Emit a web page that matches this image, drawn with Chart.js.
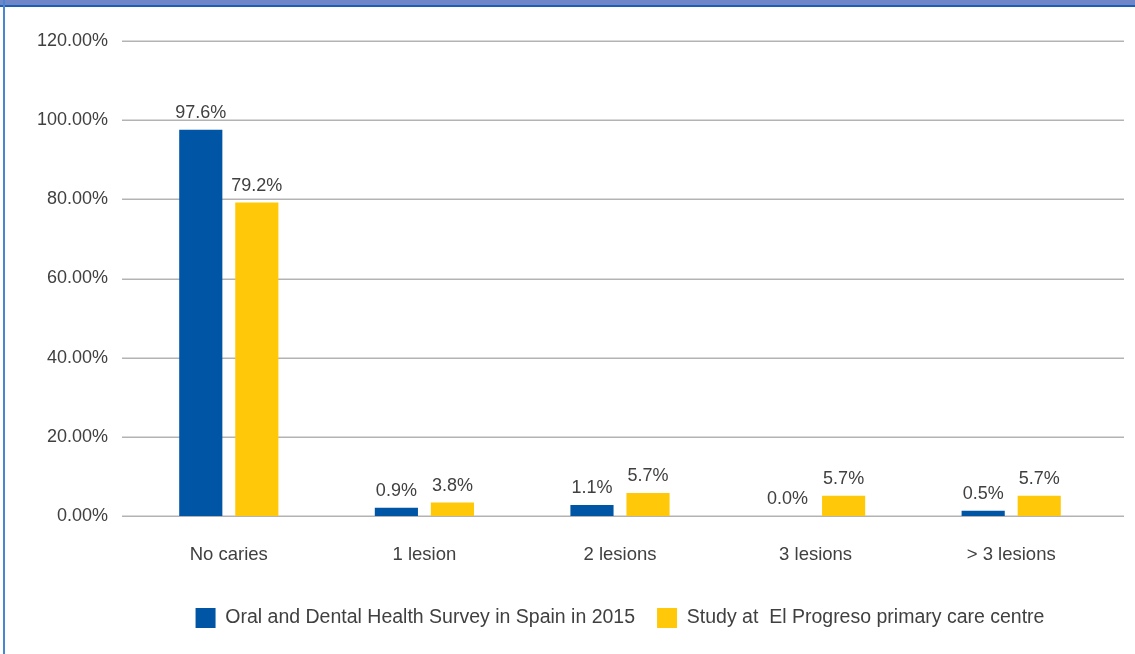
<!DOCTYPE html>
<html>
<head>
<meta charset="utf-8">
<script src="https://cdn.jsdelivr.net/npm/chart.js@4.4.1/dist/chart.umd.min.js"></script>
<style>
  html, body { margin: 0; padding: 0; background: #ffffff; }
  #wrap { position: relative; width: 1135px; height: 654px; overflow: hidden; }
  #topband { position: absolute; left: 0; top: 0; width: 1135px; height: 5px; background: #6f87c6; border-bottom: 2px solid #1d5eb6; }
  #leftline { position: absolute; left: 3px; top: 0; width: 2px; height: 654px; background: #4a86cf; }
  canvas { position: absolute; left: 0; top: 0; }
</style>
</head>
<body>
<div id="wrap">
  <canvas id="c" width="1135" height="654"></canvas>
  <div id="topband"></div>
  <div id="leftline"></div>
</div>
<script>
const categories = ['No caries', '1 lesion', '2 lesions', '3 lesions', '> 3 lesions'];
const seriesNames = ['Oral and Dental Health Survey in Spain in 2015', 'Study at  El Progreso primary care centre'];
const surveyValues = [97.6, 2.1, 2.8, 0.0, 1.3];
const studyValues = [79.2, 3.4, 5.8, 5.1, 5.1];
const surveyLabels = ['97.6%', '0.9%', '1.1%', '0.0%', '0.5%'];
const studyLabels = ['79.2%', '3.8%', '5.7%', '5.7%', '5.7%'];
const yTicks = [0, 20, 40, 60, 80, 100, 120];

const FONT = "'Liberation Sans', Arial, sans-serif";
const TEXT = '#404040';

const gridPlugin = {
  id: 'extGrid',
  beforeDatasetsDraw(chart) {
    const y = chart.scales.y;
    const ctx = chart.ctx;
    ctx.save();
    ctx.strokeStyle = '#b3b3b3';
    ctx.lineWidth = 1.5;
    y.ticks.forEach(t => {
      const py = Math.round(y.getPixelForValue(t.value)) + 0.25;
      ctx.beginPath();
      ctx.moveTo(122, py);
      ctx.lineTo(1124, py);
      ctx.stroke();
    });
    ctx.restore();
  }
};

const labelPlugin = {
  id: 'barLabels',
  afterDatasetsDraw(chart) {
    const ctx = chart.ctx;
    ctx.save();
    ctx.font = '18px ' + FONT;
    ctx.fillStyle = TEXT;
    ctx.textAlign = 'center';
    ctx.textBaseline = 'alphabetic';
    chart.data.datasets.forEach((ds, di) => {
      const meta = chart.getDatasetMeta(di);
      meta.data.forEach((bar, i) => {
        ctx.fillText(ds.valueLabels[i], bar.x, bar.y - 12);
      });
    });
    ctx.restore();
  }
};

new Chart(document.getElementById('c'), {
  type: 'bar',
  data: {
    labels: categories,
    datasets: [
      { label: seriesNames[0], data: surveyValues, valueLabels: surveyLabels,
        backgroundColor: '#0055a5', borderWidth: 0,
        categoryPercentage: 0.573, barPercentage: 0.77 },
      { label: seriesNames[1], data: studyValues, valueLabels: studyLabels,
        backgroundColor: '#ffc90a', borderWidth: 0,
        categoryPercentage: 0.573, barPercentage: 0.77 }
    ]
  },
  options: {
    responsive: false,
    animation: false,
    devicePixelRatio: 1,
    layout: { padding: { left: 0, right: 26, top: 41, bottom: 16 } },
    plugins: {
      legend: {
        position: 'bottom',
        fullSize: false,
        labels: {
          font: { family: FONT, size: 19.5 },
          color: TEXT,
          boxWidth: 20,
          boxHeight: 20,
          padding: 22,
          useBorderRadius: false
        }
      },
      tooltip: { enabled: false }
    },
    scales: {
      x: {
        grid: { display: false, drawTicks: false },
        border: { display: false },
        ticks: { font: { family: FONT, size: 18.5 }, color: TEXT, padding: 28 },
        afterFit(s) { s.height = 70; }
      },
      y: {
        min: 0, max: 120,
        afterBuildTicks(s) { s.ticks = yTicks.map(v => ({ value: v })); },
        grid: { display: false, drawTicks: false },
        border: { display: false },
        ticks: {
          font: { family: FONT, size: 18 }, color: TEXT, padding: 23,
          callback: v => v.toFixed(2) + '%'
        },
        afterFit(s) { s.width = 131; }
      }
    }
  },
  plugins: [gridPlugin, labelPlugin]
});
</script>
</body>
</html>
